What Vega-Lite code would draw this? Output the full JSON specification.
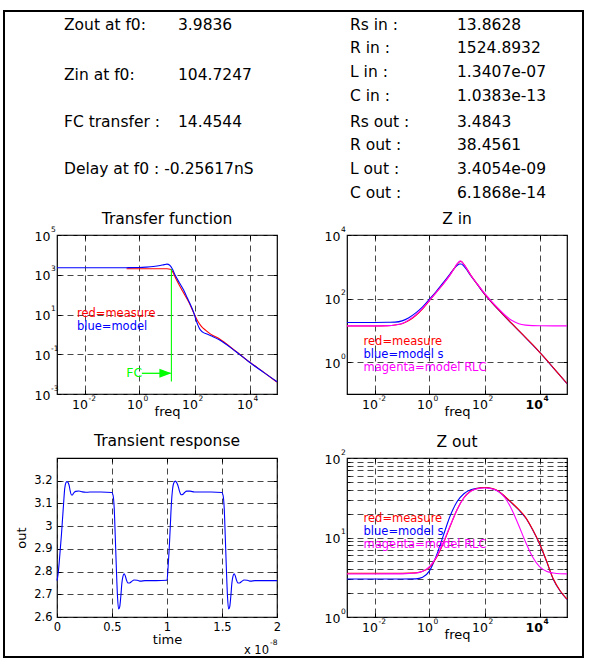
{
  "$schema": "https://vega.github.io/schema/vega-lite/v6.json",
  "background": "white",
  "padding": {"left": 3, "top": 10, "right": 0, "bottom": 0},
  "columns": 2,
  "spacing": {"row": 64, "column": 70},
  "bounds": "flush",
  "config": {
    "font": "DejaVu Sans",
    "view": {"stroke": "black", "strokeWidth": 1.2},
    "axis": {"domain": false, "ticks": false, "tickSize": 0, "tickColor": "black", "tickWidth": 1, "labelFont": "DejaVu Sans", "labelColor": "black", "titleFont": "DejaVu Sans", "titleColor": "black", "titleFontWeight": "normal", "gridColor": "#333333", "gridDash": [6, 4], "gridWidth": 0.9, "gridOpacity": 1, "labelFlush": false, "labelOverlap": false},
    "title": {"font": "DejaVu Sans", "fontSize": 15.5, "fontWeight": "normal", "color": "black", "baseline": "alphabetic"}
  },
  "datasets": {
    "tf": [
      {"x": 0.339, "y": 1995, "s": "measure"}, {"x": 1, "y": 1995, "s": "measure"}, {"x": 3.162, "y": 1995, "s": "measure"}, {"x": 10, "y": 1995, "s": "measure"}, {"x": 13.18, "y": 1905, "s": "measure"}, {"x": 15.85, "y": 1479, "s": "measure"}, {"x": 21.38, "y": 603, "s": "measure"}, {"x": 37.15, "y": 148, "s": "measure"}, {"x": 64.57, "y": 38.0, "s": "measure"}, {"x": 97.72, "y": 10.5, "s": "measure"}, {"x": 128.8, "y": 4.79, "s": "measure"}, {"x": 177.8, "y": 2.51, "s": "measure"}, {"x": 257, "y": 1.585, "s": "measure"}, {"x": 398.1, "y": 1.0, "s": "measure"}, {"x": 794.3, "y": 0.603, "s": "measure"}, {"x": 3162, "y": 0.141, "s": "measure"}, {"x": 10000, "y": 0.0407, "s": "measure"}, {"x": 31623, "y": 0.0129, "s": "measure"}, {"x": 100000, "y": 0.00398, "s": "measure"},
      {"x": 0.001, "y": 2239, "s": "model"}, {"x": 0.01, "y": 2239, "s": "model"}, {"x": 0.1, "y": 2239, "s": "model"}, {"x": 0.3162, "y": 2265, "s": "model"}, {"x": 1, "y": 2317, "s": "model"}, {"x": 1.778, "y": 2427, "s": "model"}, {"x": 3.162, "y": 2600, "s": "model"}, {"x": 5.623, "y": 2917, "s": "model"}, {"x": 7.943, "y": 3236, "s": "model"}, {"x": 10, "y": 3428, "s": "model"}, {"x": 12.59, "y": 3020, "s": "model"}, {"x": 15.85, "y": 1905, "s": "model"}, {"x": 19.95, "y": 933, "s": "model"}, {"x": 28.18, "y": 398, "s": "model"}, {"x": 39.81, "y": 174, "s": "model"}, {"x": 50.12, "y": 89.1, "s": "model"}, {"x": 70.79, "y": 31.6, "s": "model"}, {"x": 93.33, "y": 12.6, "s": "model"}, {"x": 112.2, "y": 5.62, "s": "model"}, {"x": 131.8, "y": 3.02, "s": "model"}, {"x": 158.5, "y": 1.778, "s": "model"}, {"x": 199.5, "y": 1.288, "s": "model"}, {"x": 281.8, "y": 1.047, "s": "model"}, {"x": 446.7, "y": 0.794, "s": "model"}, {"x": 794.3, "y": 0.537, "s": "model"}, {"x": 3162, "y": 0.138, "s": "model"}, {"x": 10000, "y": 0.0398, "s": "model"}, {"x": 31623, "y": 0.0126, "s": "model"}, {"x": 100000, "y": 0.00417, "s": "model"}
    ],
    "zin": [
      {"x": 0.001, "y": 13.8, "s": "measure"}, {"x": 0.01, "y": 13.8, "s": "measure"}, {"x": 0.0316, "y": 14.1, "s": "measure"}, {"x": 0.0562, "y": 14.8, "s": "measure"}, {"x": 0.1, "y": 16.2, "s": "measure"}, {"x": 0.1778, "y": 20.4, "s": "measure"}, {"x": 0.3162, "y": 29.5, "s": "measure"}, {"x": 0.5623, "y": 47.9, "s": "measure"}, {"x": 1, "y": 87.1, "s": "measure"}, {"x": 1.778, "y": 158.5, "s": "measure"}, {"x": 3.162, "y": 288.4, "s": "measure"}, {"x": 5.623, "y": 562.3, "s": "measure"}, {"x": 7.943, "y": 891, "s": "measure"}, {"x": 10, "y": 1202, "s": "measure"}, {"x": 12.59, "y": 1445, "s": "measure"}, {"x": 14.13, "y": 1479, "s": "measure"}, {"x": 17.78, "y": 1202, "s": "measure"}, {"x": 31.62, "y": 549.5, "s": "measure"}, {"x": 56.23, "y": 275.4, "s": "measure"}, {"x": 100, "y": 141.3, "s": "measure"}, {"x": 177.8, "y": 79.4, "s": "measure"}, {"x": 316.2, "y": 45.7, "s": "measure"}, {"x": 562.3, "y": 26.9, "s": "measure"}, {"x": 1000, "y": 16.2, "s": "measure"}, {"x": 1778, "y": 9.77, "s": "measure"}, {"x": 3162, "y": 5.89, "s": "measure"}, {"x": 5623, "y": 3.55, "s": "measure"}, {"x": 10000, "y": 2.09, "s": "measure"}, {"x": 17783, "y": 1.202, "s": "measure"}, {"x": 31623, "y": 0.676, "s": "measure"}, {"x": 56234, "y": 0.38, "s": "measure"}, {"x": 100000, "y": 0.214, "s": "measure"},
      {"x": 0.001, "y": 17.8, "s": "model"}, {"x": 0.01, "y": 17.8, "s": "model"}, {"x": 0.0316, "y": 18.0, "s": "model"}, {"x": 0.0562, "y": 18.2, "s": "model"}, {"x": 0.1, "y": 19.95, "s": "model"}, {"x": 0.1778, "y": 25.1, "s": "model"}, {"x": 0.3162, "y": 35.5, "s": "model"}, {"x": 0.5623, "y": 55.0, "s": "model"}, {"x": 1, "y": 95.5, "s": "model"}, {"x": 1.778, "y": 169.8, "s": "model"}, {"x": 3.162, "y": 316.2, "s": "model"}, {"x": 5.623, "y": 602.6, "s": "model"}, {"x": 7.943, "y": 891, "s": "model"}, {"x": 10, "y": 1096, "s": "model"}, {"x": 12.59, "y": 1230, "s": "model"}, {"x": 14.13, "y": 1230, "s": "model"}, {"x": 17.78, "y": 1047, "s": "model"}, {"x": 31.62, "y": 524.8, "s": "model"}, {"x": 56.23, "y": 269.2, "s": "model"}, {"x": 100, "y": 138, "s": "model"}, {"x": 177.8, "y": 77.6, "s": "model"}, {"x": 316.2, "y": 45.2, "s": "model"}, {"x": 562.3, "y": 26.6, "s": "model"}, {"x": 1000, "y": 16.0, "s": "model"}, {"x": 1778, "y": 9.66, "s": "model"}, {"x": 3162, "y": 5.82, "s": "model"}, {"x": 5623, "y": 3.51, "s": "model"}, {"x": 10000, "y": 2.07, "s": "model"}, {"x": 17783, "y": 1.19, "s": "model"}, {"x": 31623, "y": 0.668, "s": "model"}, {"x": 56234, "y": 0.376, "s": "model"}, {"x": 100000, "y": 0.211, "s": "model"},
      {"x": 0.001, "y": 13.87, "s": "RLC"}, {"x": 0.01, "y": 13.89, "s": "RLC"}, {"x": 0.0316, "y": 14.13, "s": "RLC"}, {"x": 0.0562, "y": 14.8, "s": "RLC"}, {"x": 0.1, "y": 16.37, "s": "RLC"}, {"x": 0.1778, "y": 21.4, "s": "RLC"}, {"x": 0.3162, "y": 30.84, "s": "RLC"}, {"x": 0.5623, "y": 50.1, "s": "RLC"}, {"x": 1, "y": 88.6, "s": "RLC"}, {"x": 1.778, "y": 157.6, "s": "RLC"}, {"x": 3.162, "y": 287.5, "s": "RLC"}, {"x": 5.623, "y": 558.3, "s": "RLC"}, {"x": 7.943, "y": 887.4, "s": "RLC"}, {"x": 10, "y": 1231, "s": "RLC"}, {"x": 13.18, "y": 1539, "s": "RLC"}, {"x": 17.78, "y": 1193, "s": "RLC"}, {"x": 31.62, "y": 542.5, "s": "RLC"}, {"x": 56.23, "y": 280.4, "s": "RLC"}, {"x": 100, "y": 148, "s": "RLC"}, {"x": 177.8, "y": 83.2, "s": "RLC"}, {"x": 316.2, "y": 49.0, "s": "RLC"}, {"x": 562.3, "y": 29.9, "s": "RLC"}, {"x": 1000, "y": 20.4, "s": "RLC"}, {"x": 1778, "y": 16.2, "s": "RLC"}, {"x": 3162, "y": 14.65, "s": "RLC"}, {"x": 5623, "y": 14.1, "s": "RLC"}, {"x": 10000, "y": 13.94, "s": "RLC"}, {"x": 100000, "y": 13.87, "s": "RLC"}
    ],
    "zout": [
      {"x": 0.001, "y": 3.55, "s": "measure"}, {"x": 0.01, "y": 3.55, "s": "measure"}, {"x": 0.1, "y": 3.55, "s": "measure"}, {"x": 0.3162, "y": 3.59, "s": "measure"}, {"x": 0.5623, "y": 3.76, "s": "measure"}, {"x": 1, "y": 4.22, "s": "measure"}, {"x": 1.778, "y": 5.56, "s": "measure"}, {"x": 3.162, "y": 8.41, "s": "measure"}, {"x": 5.623, "y": 13.8, "s": "measure"}, {"x": 10, "y": 22.4, "s": "measure"}, {"x": 17.78, "y": 31.6, "s": "measure"}, {"x": 31.62, "y": 38.5, "s": "measure"}, {"x": 56.23, "y": 41.5, "s": "measure"}, {"x": 100, "y": 42.5, "s": "measure"}, {"x": 177.8, "y": 41.7, "s": "measure"}, {"x": 316.2, "y": 38.5, "s": "measure"}, {"x": 562.3, "y": 32.7, "s": "measure"}, {"x": 1000, "y": 27.2, "s": "measure"}, {"x": 1778, "y": 22.4, "s": "measure"}, {"x": 3162, "y": 17.8, "s": "measure"}, {"x": 5623, "y": 12.6, "s": "measure"}, {"x": 10000, "y": 8.41, "s": "measure"}, {"x": 17783, "y": 5.13, "s": "measure"}, {"x": 31623, "y": 3.02, "s": "measure"}, {"x": 56234, "y": 2.14, "s": "measure"}, {"x": 100000, "y": 1.68, "s": "measure"},
      {"x": 0.001, "y": 3.01, "s": "model"}, {"x": 0.01, "y": 3.01, "s": "model"}, {"x": 0.1, "y": 3.01, "s": "model"}, {"x": 0.3162, "y": 3.02, "s": "model"}, {"x": 0.5623, "y": 3.16, "s": "model"}, {"x": 1, "y": 3.8, "s": "model"}, {"x": 1.778, "y": 5.89, "s": "model"}, {"x": 3.162, "y": 10.5, "s": "model"}, {"x": 5.623, "y": 18.6, "s": "model"}, {"x": 10, "y": 28.2, "s": "model"}, {"x": 17.78, "y": 35.5, "s": "model"}, {"x": 31.62, "y": 39.8, "s": "model"}, {"x": 56.23, "y": 41.7, "s": "model"}, {"x": 100, "y": 42.5, "s": "model"}, {"x": 177.8, "y": 41.3, "s": "model"}, {"x": 316.2, "y": 38.1, "s": "model"}, {"x": 562.3, "y": 32.4, "s": "model"}, {"x": 1000, "y": 26.9, "s": "model"}, {"x": 1778, "y": 22.2, "s": "model"}, {"x": 3162, "y": 17.6, "s": "model"}, {"x": 5623, "y": 12.5, "s": "model"}, {"x": 10000, "y": 8.33, "s": "model"}, {"x": 17783, "y": 5.08, "s": "model"}, {"x": 31623, "y": 2.99, "s": "model"}, {"x": 56234, "y": 2.12, "s": "model"}, {"x": 100000, "y": 1.66, "s": "model"},
      {"x": 0.001, "y": 3.48, "s": "RLC"}, {"x": 0.01, "y": 3.48, "s": "RLC"}, {"x": 0.1, "y": 3.49, "s": "RLC"}, {"x": 0.3162, "y": 3.575, "s": "RLC"}, {"x": 0.5623, "y": 3.77, "s": "RLC"}, {"x": 1, "y": 4.31, "s": "RLC"}, {"x": 1.778, "y": 5.70, "s": "RLC"}, {"x": 3.162, "y": 8.66, "s": "RLC"}, {"x": 5.623, "y": 14.03, "s": "RLC"}, {"x": 10, "y": 22.2, "s": "RLC"}, {"x": 17.78, "y": 31.4, "s": "RLC"}, {"x": 31.62, "y": 38.0, "s": "RLC"}, {"x": 56.23, "y": 41.1, "s": "RLC"}, {"x": 100, "y": 41.9, "s": "RLC"}, {"x": 177.8, "y": 41.1, "s": "RLC"}, {"x": 316.2, "y": 38.0, "s": "RLC"}, {"x": 562.3, "y": 31.4, "s": "RLC"}, {"x": 1000, "y": 22.2, "s": "RLC"}, {"x": 1778, "y": 14.03, "s": "RLC"}, {"x": 3162, "y": 8.66, "s": "RLC"}, {"x": 5623, "y": 5.70, "s": "RLC"}, {"x": 10000, "y": 4.31, "s": "RLC"}, {"x": 17783, "y": 3.77, "s": "RLC"}, {"x": 31623, "y": 3.575, "s": "RLC"}, {"x": 56234, "y": 3.5, "s": "RLC"}, {"x": 100000, "y": 3.49, "s": "RLC"}
    ],
    "tr": [
      {"x": 0, "y": 2.76}, {"x": 0.01, "y": 2.79}, {"x": 0.02, "y": 2.84}, {"x": 0.03, "y": 2.9}, {"x": 0.04, "y": 2.96}, {"x": 0.05, "y": 3.03}, {"x": 0.06, "y": 3.1}, {"x": 0.07, "y": 3.165}, {"x": 0.08, "y": 3.19}, {"x": 0.09, "y": 3.196}, {"x": 0.1, "y": 3.193}, {"x": 0.11, "y": 3.18}, {"x": 0.12, "y": 3.155}, {"x": 0.13, "y": 3.138}, {"x": 0.14, "y": 3.137}, {"x": 0.15, "y": 3.145}, {"x": 0.17, "y": 3.153}, {"x": 0.2, "y": 3.155}, {"x": 0.23, "y": 3.151}, {"x": 0.26, "y": 3.149}, {"x": 0.3, "y": 3.15}, {"x": 0.4, "y": 3.15}, {"x": 0.5, "y": 3.148},
      {"x": 0.51, "y": 3.135}, {"x": 0.52, "y": 3.08}, {"x": 0.53, "y": 2.95}, {"x": 0.54, "y": 2.81}, {"x": 0.55, "y": 2.69}, {"x": 0.56, "y": 2.635}, {"x": 0.57, "y": 2.645}, {"x": 0.58, "y": 2.69}, {"x": 0.59, "y": 2.75}, {"x": 0.6, "y": 2.78}, {"x": 0.61, "y": 2.79}, {"x": 0.62, "y": 2.782}, {"x": 0.63, "y": 2.765}, {"x": 0.645, "y": 2.75}, {"x": 0.66, "y": 2.75}, {"x": 0.68, "y": 2.757}, {"x": 0.7, "y": 2.763}, {"x": 0.73, "y": 2.762}, {"x": 0.76, "y": 2.758}, {"x": 0.8, "y": 2.76}, {"x": 0.9, "y": 2.76}, {"x": 1.0, "y": 2.762},
      {"x": 1.01, "y": 2.82}, {"x": 1.02, "y": 2.9}, {"x": 1.03, "y": 3.0}, {"x": 1.04, "y": 3.1}, {"x": 1.05, "y": 3.16}, {"x": 1.06, "y": 3.188}, {"x": 1.075, "y": 3.198}, {"x": 1.09, "y": 3.19}, {"x": 1.1, "y": 3.178}, {"x": 1.11, "y": 3.16}, {"x": 1.12, "y": 3.145}, {"x": 1.13, "y": 3.138}, {"x": 1.145, "y": 3.14}, {"x": 1.16, "y": 3.148}, {"x": 1.18, "y": 3.154}, {"x": 1.21, "y": 3.154}, {"x": 1.25, "y": 3.15}, {"x": 1.3, "y": 3.15}, {"x": 1.4, "y": 3.15}, {"x": 1.5, "y": 3.148},
      {"x": 1.51, "y": 3.135}, {"x": 1.52, "y": 3.08}, {"x": 1.53, "y": 2.95}, {"x": 1.54, "y": 2.81}, {"x": 1.55, "y": 2.69}, {"x": 1.56, "y": 2.635}, {"x": 1.57, "y": 2.645}, {"x": 1.58, "y": 2.69}, {"x": 1.59, "y": 2.75}, {"x": 1.6, "y": 2.78}, {"x": 1.61, "y": 2.79}, {"x": 1.62, "y": 2.782}, {"x": 1.63, "y": 2.765}, {"x": 1.645, "y": 2.75}, {"x": 1.66, "y": 2.75}, {"x": 1.68, "y": 2.757}, {"x": 1.7, "y": 2.763}, {"x": 1.73, "y": 2.762}, {"x": 1.76, "y": 2.758}, {"x": 1.8, "y": 2.76}, {"x": 1.9, "y": 2.76}, {"x": 2.0, "y": 2.76}
    ]
  },
  "concat": [
    {
      "width": 220, "height": 159, "view": {"stroke": null},
      "layer": [
        {
          "data": {"values": [{"u": 0, "v": 0, "u2": 1, "v2": 1}]},
          "mark": {"type": "rect", "filled": false, "color": "black", "strokeWidth": 2},
          "encoding": {
            "x": {"field": "u", "type": "quantitative", "scale": {"domain": [0, 1], "range": [-53, 526]}, "axis": null},
            "x2": {"field": "u2"},
            "y": {"field": "v", "type": "quantitative", "scale": {"domain": [0, 1], "range": [-1, 645]}, "axis": null},
            "y2": {"field": "v2"}
          }
        },
        {
          "data": {"values": [
            {"u": 0.1036, "v": 0.0224, "t": "Zout at f0:"}, {"u": 0.3005, "v": 0.0224, "t": "3.9836"},
            {"u": 0.1036, "v": 0.0991, "t": "Zin at f0:"}, {"u": 0.3005, "v": 0.0991, "t": "104.7247"},
            {"u": 0.1036, "v": 0.1718, "t": "FC transfer :"}, {"u": 0.3005, "v": 0.1718, "t": "14.4544"},
            {"u": 0.1036, "v": 0.2446, "t": "Delay at f0 : -0.25617nS"}
          ]},
          "mark": {"type": "text", "align": "left", "baseline": "middle", "fontSize": 15.5, "color": "black"},
          "encoding": {
            "x": {"field": "u", "type": "quantitative", "axis": null},
            "y": {"field": "v", "type": "quantitative", "axis": null},
            "text": {"field": "t"}
          }
        }
      ]
    },
    {
      "width": 220, "height": 159, "view": {"stroke": null},
      "data": {"values": [
        {"u": 0.5976, "v": 0.0217, "t": "Rs in :"}, {"u": 0.7824, "v": 0.0217, "t": "13.8628"},
        {"u": 0.5976, "v": 0.058, "t": "R in :"}, {"u": 0.7824, "v": 0.058, "t": "1524.8932"},
        {"u": 0.5976, "v": 0.0952, "t": "L in :"}, {"u": 0.7824, "v": 0.0952, "t": "1.3407e-07"},
        {"u": 0.5976, "v": 0.1323, "t": "C in :"}, {"u": 0.7824, "v": 0.1323, "t": "1.0383e-13"},
        {"u": 0.5976, "v": 0.1711, "t": "Rs out :"}, {"u": 0.7824, "v": 0.1711, "t": "3.4843"},
        {"u": 0.5976, "v": 0.2074, "t": "R out :"}, {"u": 0.7824, "v": 0.2074, "t": "38.4561"},
        {"u": 0.5976, "v": 0.2446, "t": "L out :"}, {"u": 0.7824, "v": 0.2446, "t": "3.4054e-09"},
        {"u": 0.5976, "v": 0.2817, "t": "C out :"}, {"u": 0.7824, "v": 0.2817, "t": "6.1868e-14"}
      ]},
      "mark": {"type": "text", "align": "left", "baseline": "middle", "fontSize": 15.5, "color": "black"},
      "encoding": {
        "x": {"field": "u", "type": "quantitative", "scale": {"domain": [0, 1], "range": [-343, 236]}, "axis": null},
        "y": {"field": "v", "type": "quantitative", "scale": {"domain": [0, 1], "range": [-1, 645]}, "axis": null},
        "text": {"field": "t"}
      }
    },
    {
      "width": 220, "height": 159,
      "title": {"text": "Transfer function", "offset": -2.5},
      "resolve": {"axis": {"x": "independent", "y": "independent"}},
      "layer": [
        {
          "data": {"name": "tf"},
          "transform": [{"filter": "datum.s == 'measure'"}],
          "mark": {"type": "line", "strokeWidth": 1.1, "interpolate": "monotone"},
          "encoding": {
            "x": {"field": "x", "type": "quantitative", "scale": {"type": "log", "domain": [0.001, 100000]},
              "axis": {"orient": "bottom", "values": [0.01, 1, 100, 10000], "labelExpr": "'10'", "labelAlign": "right", "labelOffset": 3, "labelPadding": 4, "labelFontSize": 12.5, "labelBaseline": "top", "grid": true, "title": "freq", "titleFontSize": 13, "titleY": 21, "titleBaseline": "alphabetic"}},
            "y": {"field": "y", "type": "quantitative", "scale": {"type": "log", "domain": [0.001, 100000]},
              "axis": {"orient": "left", "values": [0.001, 0.1, 10, 1000, 100000], "labelExpr": "'10'", "labelAlign": "right", "labelBaseline": "middle", "labelPadding": 7, "labelOffset": 1, "labelFontSize": 12.5, "grid": true, "title": null}},
            "color": {"field": "s", "type": "nominal", "scale": {"domain": ["measure", "model", "RLC"], "range": ["#ff0000", "#0000ff", "#ff00ff"]}, "legend": null}
          }
        },
        {
          "data": {"name": "tf"},
          "transform": [{"filter": "datum.s == 'model'"}],
          "mark": {"type": "line", "strokeWidth": 1.1, "interpolate": "monotone"},
          "encoding": {
            "x": {"field": "x", "type": "quantitative", "axis": {"orient": "top", "values": [0.01, 1, 100, 10000], "labels": false, "ticks": true, "tickSize": -4, "grid": false, "title": null}},
            "y": {"field": "y", "type": "quantitative", "axis": {"orient": "right", "values": [0.001, 0.1, 10, 1000, 100000], "labels": false, "ticks": true, "tickSize": -4, "grid": false, "title": null}},
            "color": {"field": "s", "type": "nominal", "legend": null}
          }
        },
        {
          "data": {"values": [{"x": 14.4544, "y": 0.0042, "y2": 1950}]},
          "mark": {"type": "rule", "color": "#00ff00", "strokeWidth": 1.1},
          "encoding": {
            "x": {"field": "x", "type": "quantitative", "axis": {"orient": "bottom", "values": [0.01, 1, 100, 10000], "labels": false, "ticks": true, "tickSize": -4, "grid": false, "title": null}},
            "y": {"field": "y", "type": "quantitative", "axis": {"orient": "left", "values": [0.001, 0.1, 10, 1000, 100000], "labels": false, "ticks": true, "tickSize": -4, "grid": false, "title": null}},
            "y2": {"field": "y2"}
          }
        },
        {
          "data": {"values": [{"x": 1.22, "x2": 13.5, "y": 0.011}]},
          "mark": {"type": "rule", "color": "#00ff00", "strokeWidth": 1.3},
          "encoding": {
            "x": {"field": "x", "type": "quantitative", "axis": null},
            "x2": {"field": "x2"},
            "y": {"field": "y", "type": "quantitative", "axis": null}
          }
        },
        {
          "data": {"values": [{"x": 14.4544, "y": 0.011}]},
          "mark": {"type": "point", "shape": "M-2,-0.75L0,0L-2,0.75Z", "size": 144, "filled": true, "color": "#00ff00", "opacity": 1},
          "encoding": {
            "x": {"field": "x", "type": "quantitative", "axis": null},
            "y": {"field": "y", "type": "quantitative", "axis": null}
          }
        },
        {
          "data": {"values": [{"x": 0.333, "y": 0.011, "t": "FC"}]},
          "mark": {"type": "text", "align": "left", "baseline": "middle", "fontSize": 12.5, "color": "#00ff00"},
          "encoding": {
            "x": {"field": "x", "type": "quantitative", "axis": null},
            "y": {"field": "y", "type": "quantitative", "axis": null},
            "text": {"field": "t"}
          }
        },
        {
          "data": {"values": [{"x": 0.0053, "y": 10.6, "s": "measure", "t": "red=measure"}, {"x": 0.0053, "y": 2.35, "s": "model", "t": "blue=model"}]},
          "mark": {"type": "text", "align": "left", "baseline": "middle", "fontSize": 11.5},
          "encoding": {
            "x": {"field": "x", "type": "quantitative",
              "axis": {"orient": "bottom", "values": [0.01, 1, 100, 10000], "labelExpr": "'' + round(log(datum.value)/LN10)", "labelAlign": "left", "labelOffset": 3.5, "labelPadding": 0, "labelFontSize": 7.5, "labelBaseline": "top", "grid": false, "title": null}},
            "y": {"field": "y", "type": "quantitative",
              "axis": {"orient": "left", "values": [0.001, 0.1, 10, 1000, 100000], "labelExpr": "'' + round(log(datum.value)/LN10)", "labelAlign": "left", "labelBaseline": "middle", "labelPadding": 6.5, "labelOffset": -6, "labelFontSize": 7.5, "grid": false, "title": null}},
            "color": {"field": "s", "type": "nominal", "legend": null},
            "text": {"field": "t"}
          }
        }
      ]
    },
    {
      "width": 220, "height": 159,
      "title": {"text": "Z in", "offset": -2.5},
      "resolve": {"axis": {"x": "independent", "y": "independent"}},
      "layer": [
        {
          "data": {"name": "zin"},
          "transform": [{"filter": "datum.s == 'model'"}],
          "mark": {"type": "line", "strokeWidth": 1.1, "interpolate": "monotone"},
          "encoding": {
            "x": {"field": "x", "type": "quantitative", "scale": {"type": "log", "domain": [0.001, 100000]},
              "axis": {"orient": "bottom", "values": [0.01, 1, 100, 10000], "labelExpr": "'10'", "labelAlign": "right", "labelOffset": 3, "labelPadding": 4, "labelFontSize": 12.5, "labelBaseline": "top", "labelFontWeight": {"expr": "datum.value == 10000 ? 'bold' : 'normal'"}, "grid": true, "title": "freq", "titleFontSize": 13, "titleY": 21, "titleBaseline": "alphabetic"}},
            "y": {"field": "y", "type": "quantitative", "scale": {"type": "log", "domain": [0.1, 10000]},
              "axis": {"orient": "left", "values": [1, 100, 10000], "labelExpr": "'10'", "labelAlign": "right", "labelBaseline": "middle", "labelPadding": 7, "labelOffset": 1, "labelFontSize": 12.5, "grid": true, "title": null}},
            "color": {"field": "s", "type": "nominal", "scale": {"domain": ["measure", "model", "RLC"], "range": ["#ff0000", "#0000ff", "#ff00ff"]}, "legend": null}
          }
        },
        {
          "data": {"name": "zin"},
          "transform": [{"filter": "datum.s == 'measure'"}],
          "mark": {"type": "line", "strokeWidth": 1.1, "interpolate": "monotone"},
          "encoding": {
            "x": {"field": "x", "type": "quantitative", "axis": {"orient": "top", "values": [0.01, 1, 100, 10000], "labels": false, "ticks": true, "tickSize": -4, "grid": false, "title": null}},
            "y": {"field": "y", "type": "quantitative", "axis": {"orient": "right", "values": [1, 100, 10000], "labels": false, "ticks": true, "tickSize": -4, "grid": false, "title": null}},
            "color": {"field": "s", "type": "nominal", "legend": null}
          }
        },
        {
          "data": {"name": "zin"},
          "transform": [{"filter": "datum.s == 'RLC'"}],
          "mark": {"type": "line", "strokeWidth": 1.1, "interpolate": "monotone"},
          "encoding": {
            "x": {"field": "x", "type": "quantitative", "axis": {"orient": "bottom", "values": [0.01, 1, 100, 10000], "labels": false, "ticks": true, "tickSize": -4, "grid": false, "title": null}},
            "y": {"field": "y", "type": "quantitative", "axis": {"orient": "left", "values": [1, 100, 10000], "labels": false, "ticks": true, "tickSize": -4, "grid": false, "title": null}},
            "color": {"field": "s", "type": "nominal", "legend": null}
          }
        },
        {
          "data": {"values": [{"x": 0.004, "y": 4.22, "s": "measure", "t": "red=measure"}, {"x": 0.004, "y": 1.66, "s": "model", "t": "blue=model s"}, {"x": 0.004, "y": 0.65, "s": "RLC", "t": "magenta=model RLC"}]},
          "mark": {"type": "text", "align": "left", "baseline": "middle", "fontSize": 11.5},
          "encoding": {
            "x": {"field": "x", "type": "quantitative",
              "axis": {"orient": "bottom", "values": [0.01, 1, 100, 10000], "labelExpr": "'' + round(log(datum.value)/LN10)", "labelAlign": "left", "labelOffset": 3.5, "labelPadding": 0, "labelFontSize": 7.5, "labelBaseline": "top", "labelFontWeight": {"expr": "datum.value == 10000 ? 'bold' : 'normal'"}, "grid": false, "title": null}},
            "y": {"field": "y", "type": "quantitative",
              "axis": {"orient": "left", "values": [1, 100, 10000], "labelExpr": "'' + round(log(datum.value)/LN10)", "labelAlign": "left", "labelBaseline": "middle", "labelPadding": 6.5, "labelOffset": -6, "labelFontSize": 7.5, "grid": false, "title": null}},
            "color": {"field": "s", "type": "nominal", "legend": null},
            "text": {"field": "t"}
          }
        }
      ]
    },
    {
      "width": 220, "height": 159,
      "title": {"text": "Transient response", "offset": 8.5},
      "resolve": {"axis": {"x": "independent", "y": "independent"}},
      "layer": [
        {
          "data": {"name": "tr"},
          "mark": {"type": "line", "strokeWidth": 1.1, "color": "#0000ff", "interpolate": "monotone"},
          "encoding": {
            "x": {"field": "x", "type": "quantitative", "scale": {"domain": [0, 2]},
              "axis": {"orient": "bottom", "values": [0, 0.5, 1, 1.5, 2], "format": "~g", "labelFontSize": 11.5, "labelPadding": 4, "grid": true, "title": "time", "titleFontSize": 13, "titleY": 26.5, "titleBaseline": "alphabetic"}},
            "y": {"field": "y", "type": "quantitative", "scale": {"domain": [2.6, 3.3]},
              "axis": {"orient": "left", "values": [2.6, 2.7, 2.8, 2.9, 3, 3.1, 3.2], "format": "~g", "labelFontSize": 11.5, "labelPadding": 5, "grid": true, "title": "out", "titleFontSize": 13, "titleAngle": 270, "titleX": -32, "titleY": 79.5, "titleAlign": "center", "titleBaseline": "alphabetic"}}
          }
        },
        {
          "data": {"values": [{"x": 2, "y": 2.6, "t": "x 10"}]},
          "mark": {"type": "text", "align": "right", "baseline": "alphabetic", "fontSize": 11.5, "dx": -8, "dy": 36.5, "color": "black"},
          "encoding": {
            "x": {"field": "x", "type": "quantitative", "axis": {"orient": "top", "values": [0, 0.5, 1, 1.5, 2], "labels": false, "ticks": true, "tickSize": -4, "grid": false, "title": null}},
            "y": {"field": "y", "type": "quantitative", "axis": {"orient": "right", "values": [2.6, 2.7, 2.8, 2.9, 3, 3.1, 3.2], "labels": false, "ticks": true, "tickSize": -4, "grid": false, "title": null}},
            "text": {"field": "t"}
          }
        },
        {
          "data": {"values": [{"x": 2, "y": 2.6, "t": "-8"}]},
          "mark": {"type": "text", "align": "left", "baseline": "alphabetic", "fontSize": 7.5, "dx": -7, "dy": 28, "color": "black"},
          "encoding": {
            "x": {"field": "x", "type": "quantitative", "axis": {"orient": "bottom", "values": [0, 0.5, 1, 1.5, 2], "labels": false, "ticks": true, "tickSize": -4, "grid": false, "title": null}},
            "y": {"field": "y", "type": "quantitative", "axis": {"orient": "left", "values": [2.6, 2.7, 2.8, 2.9, 3, 3.1, 3.2], "labels": false, "ticks": true, "tickSize": -4, "grid": false, "title": null}},
            "text": {"field": "t"}
          }
        }
      ]
    },
    {
      "width": 220, "height": 159,
      "title": {"text": "Z out", "offset": -2.5},
      "resolve": {"axis": {"x": "independent", "y": "independent"}},
      "layer": [
        {
          "data": {"name": "zout"},
          "transform": [{"filter": "datum.s == 'model'"}],
          "mark": {"type": "line", "strokeWidth": 1.1, "interpolate": "monotone"},
          "encoding": {
            "x": {"field": "x", "type": "quantitative", "scale": {"type": "log", "domain": [0.001, 100000]},
              "axis": {"orient": "bottom", "values": [0.01, 1, 100, 10000], "labelExpr": "'10'", "labelAlign": "right", "labelOffset": 3, "labelPadding": 4, "labelFontSize": 12.5, "labelBaseline": "top", "labelFontWeight": {"expr": "datum.value == 10000 ? 'bold' : 'normal'"}, "grid": true, "title": "freq", "titleFontSize": 13, "titleY": 21, "titleBaseline": "alphabetic"}},
            "y": {"field": "y", "type": "quantitative", "scale": {"type": "log", "domain": [1, 100]},
              "axis": {"orient": "left", "values": [1, 2, 3, 4, 5, 6, 7, 8, 9, 10, 20, 30, 40, 50, 60, 70, 80, 90, 100], "labelExpr": "(datum.value == 1 || datum.value == 10 || datum.value == 100) ? '10' : ''", "labelAlign": "right", "labelBaseline": "middle", "labelPadding": 7, "labelOffset": 1, "labelFontSize": 12.5, "grid": true, "title": null}},
            "color": {"field": "s", "type": "nominal", "scale": {"domain": ["measure", "model", "RLC"], "range": ["#ff0000", "#0000ff", "#ff00ff"]}, "legend": null}
          }
        },
        {
          "data": {"name": "zout"},
          "transform": [{"filter": "datum.s == 'measure'"}],
          "mark": {"type": "line", "strokeWidth": 1.1, "interpolate": "monotone"},
          "encoding": {
            "x": {"field": "x", "type": "quantitative", "axis": {"orient": "top", "values": [0.01, 1, 100, 10000], "labels": false, "ticks": true, "tickSize": -4, "grid": false, "title": null}},
            "y": {"field": "y", "type": "quantitative", "axis": {"orient": "right", "values": [1, 2, 3, 4, 5, 6, 7, 8, 9, 10, 20, 30, 40, 50, 60, 70, 80, 90, 100], "labels": false, "ticks": true, "tickSize": -3, "grid": false, "title": null}},
            "color": {"field": "s", "type": "nominal", "legend": null}
          }
        },
        {
          "data": {"name": "zout"},
          "transform": [{"filter": "datum.s == 'RLC'"}],
          "mark": {"type": "line", "strokeWidth": 1.1, "interpolate": "monotone"},
          "encoding": {
            "x": {"field": "x", "type": "quantitative", "axis": {"orient": "bottom", "values": [0.01, 1, 100, 10000], "labels": false, "ticks": true, "tickSize": -4, "grid": false, "title": null}},
            "y": {"field": "y", "type": "quantitative", "axis": {"orient": "left", "values": [1, 2, 3, 4, 5, 6, 7, 8, 9, 10, 20, 30, 40, 50, 60, 70, 80, 90, 100], "labels": false, "ticks": true, "tickSize": -3, "grid": false, "title": null}},
            "color": {"field": "s", "type": "nominal", "legend": null}
          }
        },
        {
          "data": {"values": [{"x": 0.004, "y": 17.1, "s": "measure", "t": "red=measure"}, {"x": 0.004, "y": 11.7, "s": "model", "t": "blue=model s"}, {"x": 0.004, "y": 8.05, "s": "RLC", "t": "magenta=model RLC"}]},
          "mark": {"type": "text", "align": "left", "baseline": "middle", "fontSize": 11.5},
          "encoding": {
            "x": {"field": "x", "type": "quantitative",
              "axis": {"orient": "bottom", "values": [0.01, 1, 100, 10000], "labelExpr": "'' + round(log(datum.value)/LN10)", "labelAlign": "left", "labelOffset": 3.5, "labelPadding": 0, "labelFontSize": 7.5, "labelBaseline": "top", "labelFontWeight": {"expr": "datum.value == 10000 ? 'bold' : 'normal'"}, "grid": false, "title": null}},
            "y": {"field": "y", "type": "quantitative",
              "axis": {"orient": "left", "values": [1, 10, 100], "labelExpr": "'' + round(log(datum.value)/LN10)", "labelAlign": "left", "labelBaseline": "middle", "labelPadding": 6.5, "labelOffset": -6, "labelFontSize": 7.5, "grid": false, "title": null}},
            "color": {"field": "s", "type": "nominal", "legend": null},
            "text": {"field": "t"}
          }
        }
      ]
    }
  ]
}
